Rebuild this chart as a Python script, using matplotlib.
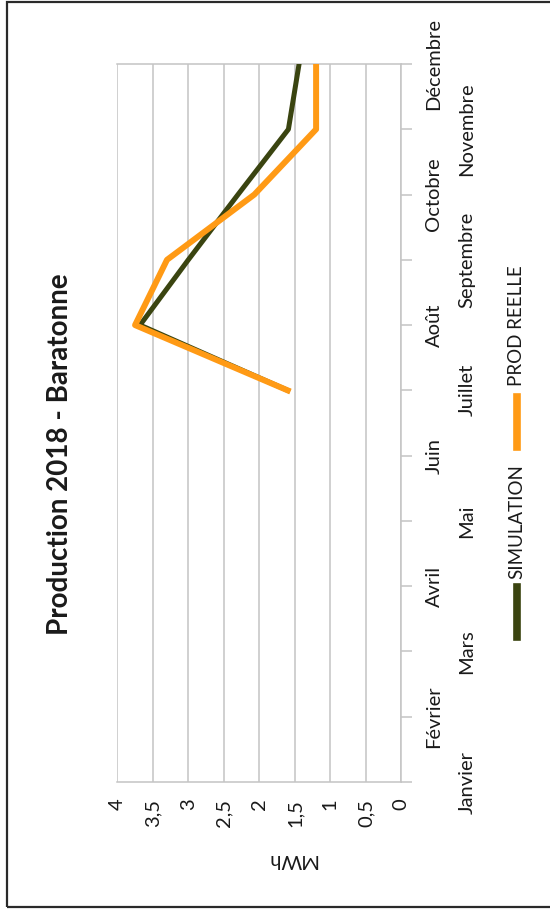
import numpy as np
import matplotlib.pyplot as plt
from matplotlib.lines import Line2D
from matplotlib.patches import Rectangle
from matplotlib.transforms import blended_transform_factory

plt.rcParams['font.family'] = ['Lato', 'DejaVu Sans']

# donnees (MWh), nan = pas de valeur
months = ['Janvier', 'Février', 'Mars', 'Avril', 'Mai', 'Juin', 'Juillet',
          'Août', 'Septembre', 'Octobre', 'Novembre', 'Décembre']
simulation = [np.nan, np.nan, np.nan, np.nan, np.nan, np.nan,
              1.6, 3.68, 3.0, 2.3, 1.59, 1.44]
prod_reelle = [np.nan, np.nan, np.nan, np.nan, np.nan, np.nan,
               1.6, 3.75, 3.3, 2.07, 1.2, 1.2]
value_ticks = [0, 0.5, 1, 1.5, 2, 2.5, 3, 3.5, 4]
value_labels = ['0', '0,5', '1', '1,5', '2', '2,5', '3', '3,5', '4']

sim_color = '#3a4410'
prod_color = '#ff9a15'
grid_color = '#c4c4c4'
text_color = '#1a1a1a'

W, H = 550, 910
fig = plt.figure(figsize=(W / 100, H / 100), dpi=100)
# le graphique est tourne de 90 degres : valeurs en x (inversees), mois en y
ax = fig.add_axes([117.3 / W, 1 - 782 / H, 284 / W, 718 / H])

idx = np.arange(len(months))
ax.plot(simulation, idx, color=sim_color, lw=3.6, zorder=3)
ax.plot(prod_reelle, idx, color=prod_color, lw=4.3, zorder=4)

ax.set_xlim(4, 0)
ax.set_ylim(0, len(months) - 1)

ax.set_xticks(value_ticks)
ax.set_xticklabels(value_labels, rotation=90, fontsize=14.5, color=text_color)
ax.tick_params(axis='x', length=0, pad=12)
ax.grid(axis='x', color=grid_color, lw=1.1)
ax.set_axisbelow(True)

ax.yaxis.tick_right()
ax.set_yticks(idx)
ax.tick_params(axis='y', length=8, width=1.1, color=grid_color,
               direction='out', labelright=False)

ax.spines['left'].set_visible(False)
for side in ['right', 'top', 'bottom']:
    ax.spines[side].set_color(grid_color)
    ax.spines[side].set_linewidth(1.1)

# etiquettes des mois en deux rangees
trans = blended_transform_factory(ax.transAxes, ax.transData)
for i, m in enumerate(months):
    xpos = 1.115 if i % 2 else 1.231
    ax.text(xpos, i, m, transform=trans, rotation=90, ha='center',
            va='center', fontsize=14.5, color=text_color)

fig.text(292 / W, 1 - 860 / H, 'MWh', rotation=180, ha='center',
         va='center', fontsize=14.5, color=text_color)
fig.text(60 / W, 1 - 454 / H, 'Production 2018 - Baratonne', rotation=90,
         ha='center', va='center', fontsize=20, fontweight='bold',
         color=text_color)

# legende (tournee elle aussi)
fig.add_artist(Line2D([517 / W, 517 / W], [1 - 587 / H, 1 - 637 / H],
                      transform=fig.transFigure, color=sim_color, lw=5.5))
fig.text(517 / W, 1 - 522 / H, 'SIMULATION', rotation=90, ha='center',
         va='center', fontsize=13.5, color=text_color)
fig.add_artist(Line2D([517 / W, 517 / W], [1 - 397 / H, 1 - 447 / H],
                      transform=fig.transFigure, color=prod_color, lw=5.5))
fig.text(517 / W, 1 - 326 / H, 'PROD REELLE', rotation=90, ha='center',
         va='center', fontsize=13.5, color=text_color)

# cadre
fig.add_artist(Rectangle((6.5 / W, 1 - 906.5 / H), 560 / W, 905 / H,
                         transform=fig.transFigure, fill=False,
                         ec='#2a2a2a', lw=1.6))

fig.savefig('out.png', dpi=100)
